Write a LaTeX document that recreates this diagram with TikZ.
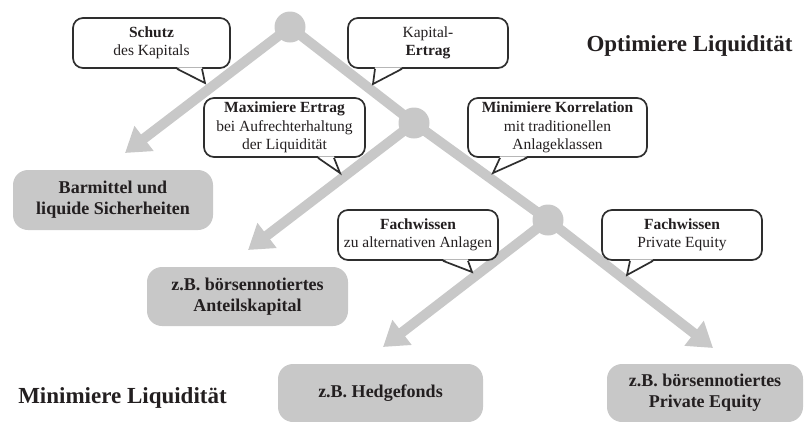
\documentclass[tikz,border=0pt]{standalone}
\usepackage{fontspec}
\setmainfont{Liberation Serif}
\usetikzlibrary{arrows.meta,calc}

\definecolor{bargray}{HTML}{C8C8C8}
\definecolor{boxgray}{HTML}{C8C8C8}
\definecolor{ink}{HTML}{231F20}
\definecolor{rim}{HTML}{2E2E2E}

% speech-bubble tail: #1 bubble node, #2/#3 x of the base ends, #4 tip coordinate
\newcommand\bubbletail[4]{%
  \fill[white] ($(#2,0 |- #1.south)+(0,-1.5)$) -- (#4) -- ($(#3,0 |- #1.south)+(0,-1.5)$) -- cycle;
  \draw[tailline] (#2,0 |- #1.south) -- (#4) -- (#3,0 |- #1.south);
}

\begin{document}
\begin{tikzpicture}[x=1pt,y=-1pt,
  bar/.style={draw=bargray, line width=10pt},
  arrowbar/.style={bar, -{Triangle[width=30pt,length=24pt]}},
  hub/.style={circle, fill=bargray, minimum size=31pt, inner sep=0pt},
  bubble/.style={draw=rim, line width=1.7pt, fill=white, rounded corners=10pt,
    inner sep=0pt, align=center, text=ink, font=\fontsize{15.5}{18.5}\selectfont},
  tailline/.style={draw=rim, line width=1.7pt, line join=miter},
  asset/.style={fill=boxgray, rounded corners=15pt, inner sep=0pt, align=center,
    text=ink, font=\bfseries\fontsize{18}{21}\selectfont},
  axislabel/.style={anchor=base, text=ink, font=\bfseries\fontsize{23}{27}\selectfont},
]
\useasboundingbox (0,0) rectangle (806,421);

% branching points
\coordinate (h1) at (290,27);
\coordinate (h2) at (414,123);
\coordinate (h3) at (548,220);

% arrow ends
\coordinate (a1) at (125,153);
\coordinate (a2) at (248,250);
\coordinate (a3) at (383,347);
\coordinate (a4) at (713,348);

% bars
\draw[bar] (h1) -- (h2);
\draw[bar] (h2) -- (h3);
\draw[arrowbar] (h1) -- (a1);
\draw[arrowbar] (h2) -- (a2);
\draw[arrowbar] (h3) -- (a3);
\draw[arrowbar] (h3) -- (a4);
\node[hub] (n1) at (h1) {};
\node[hub] (n2) at (h2) {};
\node[hub] (n3) at (h3) {};

% asset classes
\node[asset, minimum width=200pt, minimum height=60pt] (c1) at (113,200)
  {Barmittel und\\liquide Sicherheiten};
\node[asset, minimum width=201pt, minimum height=59pt] (c2) at (247.5,296.5)
  {z.B. börsennotiertes\\Anteilskapital};
\node[asset, minimum width=205pt, minimum height=58pt] (c3) at (380.5,393)
  {z.B. Hedgefonds};
\node[asset, minimum width=196pt, minimum height=58pt] (c4) at (705,393)
  {z.B. börsennotiertes\\Private Equity};

% speech bubbles
\node[bubble, minimum width=157pt, minimum height=50pt] (b1) at (151.5,43)
  {\textbf{Schutz}\\des Kapitals};
\node[bubble, minimum width=160pt, minimum height=50pt] (b2) at (428,43)
  {Kapital-\\\textbf{Ertrag}};
\node[bubble, minimum width=161pt, minimum height=59pt] (b3) at (284.5,127.5)
  {\textbf{Maximiere Ertrag}\\bei Aufrechterhaltung\\der Liquidität};
\node[bubble, minimum width=179pt, minimum height=59pt] (b4) at (557.5,127.5)
  {\textbf{Minimiere Korrelation}\\mit traditionellen\\Anlageklassen};
\node[bubble, minimum width=160pt, minimum height=50pt] (b5) at (418,235)
  {\textbf{Fachwissen}\\zu alternativen Anlagen};
\node[bubble, minimum width=160pt, minimum height=50pt] (b6) at (682,235)
  {\textbf{Fachwissen}\\Private Equity};

\coordinate (t1) at (205,83);
\coordinate (t2) at (373,84);
\coordinate (t3) at (340,173);
\coordinate (t4) at (493,173);
\coordinate (t5) at (472,272);
\coordinate (t6) at (627,275);
\bubbletail{b1}{177}{202}{t1}
\bubbletail{b2}{375}{402}{t2}
\bubbletail{b3}{318}{334}{t3}
\bubbletail{b4}{500}{527}{t4}
\bubbletail{b5}{443}{468}{t5}
\bubbletail{b6}{630}{653}{t6}

% axis labels
\node[axislabel] (top) at (689.5,51) {Optimiere Liquidität};
\node[axislabel] (bottom) at (122.5,403) {Minimiere Liquidität};
\end{tikzpicture}
\end{document}
